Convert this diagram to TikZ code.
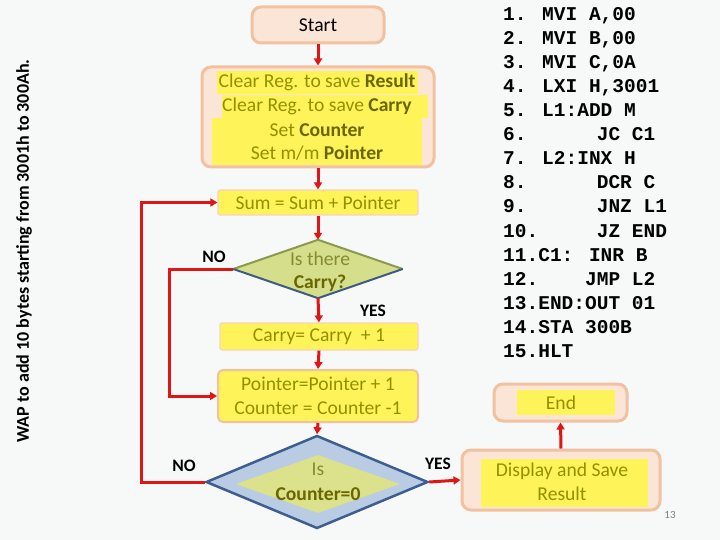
\documentclass[tikz,border=0pt]{standalone}
\usepackage{fontspec}
\setmainfont{Carlito}
\newfontfamily\codefont{Liberation Mono}
\usetikzlibrary{arrows.meta,shapes.geometric}
\definecolor{bgc}{HTML}{F7F8F8}
\definecolor{peach}{HTML}{FAE5D7}
\definecolor{peachb}{HTML}{F2C19F}
\definecolor{yel}{HTML}{FFF35A}
\definecolor{olivet}{HTML}{939000}
\definecolor{oliveb}{HTML}{6A6600}
\definecolor{olived}{HTML}{868A30}
\definecolor{redc}{HTML}{E01515}
\definecolor{dgreen}{HTML}{D5DE8B}
\definecolor{dtop}{HTML}{8B9A4E}
\definecolor{dbot}{HTML}{3E5B80}
\definecolor{lblue}{HTML}{B9CCE4}
\definecolor{dblue}{HTML}{3D5E8E}
\definecolor{inyel}{HTML}{DCE28C}
\tikzset{
  flowarr/.style={draw=redc, line width=3pt, -{Triangle[length=7pt,width=8pt]}},
  peachbox/.style={rectangle, rounded corners=9pt, fill=peach, draw=peachb, line width=3pt, inner sep=0pt},
  yelbox/.style={rectangle, rounded corners=2pt, fill=yel, draw=peachb!70, line width=1.2pt, inner sep=0pt, text=olivet, font=\fontsize{19.6}{22}\selectfont},
  txt/.style={inner sep=0pt, text=olivet, font=\fontsize{19.6}{22}\selectfont},
  lbl/.style={inner sep=0pt, font=\fontsize{17.5}{20}\selectfont\bfseries},
  code/.style={anchor=base west, inner sep=0pt, font=\codefont\bfseries\fontsize{19.5}{24}\selectfont},
}
\begin{document}
\begin{tikzpicture}[x=1pt,y=-1pt]
\useasboundingbox (0,0) rectangle (720,540);
\fill[bgc] (0,0) rectangle (720,540);

% title
\node[inner sep=0pt, rotate=90, font=\fontsize{18}{21}\selectfont\bfseries] (title) at (24,251) {WAP to add 10 bytes starting from 3001h to 300Ah.};

% start
\node[peachbox, minimum width=132pt, minimum height=36pt, font=\fontsize{19.6}{22}\selectfont] (start) at (318,25) {Start};

% init
\node[peachbox, minimum width=232pt, minimum height=100pt] (init) at (318,117) {};
\fill[yel] (217,71) rectangle (418,94);
\fill[yel] (222,95) rectangle (428,118);
\fill[yel] (212,118) rectangle (422,142);
\fill[yel] (212,142) rectangle (422,165);
\node[txt] (i1) at (317,82.5) {Clear Reg. to save \textcolor{oliveb}{\bfseries Result}};
\node[txt] (i2) at (317,106.5) {Clear Reg. to save \textcolor{oliveb}{\bfseries Carry}};
\node[txt] (i3) at (317,130) {Set \textcolor{oliveb}{\bfseries Counter}};
\node[txt] (i4) at (317,153.5) {Set m/m \textcolor{oliveb}{\bfseries Pointer}};

% sum
\node[yelbox, minimum width=200pt, minimum height=25pt] (sum) at (318,202.5) {Sum = Sum + Pointer};

% diamond 1
\node[diamond, fill=dgreen, draw=none, minimum width=169pt, minimum height=58pt, aspect=2.9, inner sep=0pt] (d1) at (318,269) {};
\draw[dtop, line width=2pt, line join=round] (d1.west) -- (d1.north) -- (d1.east);
\draw[dbot, line width=2pt, line join=round] (d1.west) -- (d1.south) -- (d1.east);
\node[txt, text=olived] (d1t) at (320,259) {Is there};
\node[txt, text=oliveb] (d1b) at (320,283) {\bfseries Carry?};

% carry
\node[yelbox, minimum width=198pt, minimum height=27pt] (carry) at (319,336.5) {Carry= Carry \ + 1};

% pointer
\node[rectangle, rounded corners=5pt, fill=yel, draw=peachb, line width=2pt, minimum width=200pt, minimum height=52pt, inner sep=0pt] (ptr) at (318,396) {};
\node[txt] (p1) at (318,384) {Pointer=Pointer + 1};
\node[txt] (p2) at (318,408) {Counter = Counter -1};

% diamond 2
\node[diamond, fill=lblue, draw=dblue, line width=2.5pt, minimum width=222pt, minimum height=93pt, aspect=2.39, inner sep=0pt] (d2) at (317,482) {};
\node[diamond, fill=inyel, draw=none, minimum width=164pt, minimum height=58pt, aspect=2.83, inner sep=0pt] (d2in) at (318,484) {};
\node[txt, text=olived] (d2t) at (318,469) {Is};
\node[txt, text=oliveb] (d2b) at (318,494) {\bfseries Counter=0};

% display & end
\node[peachbox, minimum width=198pt, minimum height=60pt] (disp) at (561,480) {};
\fill[yel] (481,459) rectangle (648,507);
\node[txt, align=center, font=\fontsize{19.6}{24}\selectfont] (dispt) at (562,482) {Display and Save\\Result};
\node[peachbox, minimum width=133pt, minimum height=37pt] (endb) at (560.5,402.5) {};
\fill[yel] (517,390) rectangle (615,415);
\node[txt] (endt) at (561,403) {End};

% labels
\node[lbl] (no1) at (214,257) {NO};
\node[lbl] (yes1) at (373,311) {YES};
\node[lbl] (no2) at (184,466) {NO};
\node[lbl] (yes2) at (438,464) {YES};
\node[inner sep=0pt, text=gray, font=\fontsize{11}{13}\selectfont] (pg) at (670,515) {13};

% connectors
\draw[flowarr] (start.south) -- (init.north);
\draw[flowarr] (init.south) -- (sum.north);
\draw[flowarr] (sum.south) -- (d1.north);
\draw[flowarr] (d1.south) -- (carry.north);
\draw[flowarr] (carry.south) -- (ptr.north);
\draw[flowarr] (ptr.south) -- (d2.north);
\draw[flowarr] (d1.west) -- ++(-64,0) |- (ptr.west);
\draw[flowarr] (d2.west) -- ++(-63,0) |- (sum.west);
\draw[flowarr] (d2.east) -- (disp.west);
\draw[flowarr] (disp.north) -- (endb.south);

% code
\node[code] (c1) at (503,21) {1. MVI A,00};
\node[code] (c2) at (503,45) {2. MVI B,00};
\node[code] (c3) at (503,69) {3. MVI C,0A};
\node[code] (c4) at (503,93) {4. LXI H,3001};
\node[code] (c5) at (503,117) {5. L1:ADD M};
\node[code] (c6) at (503,141) {6.\ \ \ \ \ \ JC C1};
\node[code] (c7) at (503,165) {7. L2:INX H};
\node[code] (c8) at (503,189) {8.\ \ \ \ \ \ DCR C};
\node[code] (c9) at (503,213) {9.\ \ \ \ \ \ JNZ L1};
\node[code] (c10) at (503,237) {10.\ \ \ \ \ JZ END};
\node[code] (c11) at (503,261) {11.C1: INR B};
\node[code] (c12) at (503,285) {12.\ \ \ \ JMP L2};
\node[code] (c13) at (503,309) {13.END:OUT 01};
\node[code] (c14) at (503,333) {14.STA 300B};
\node[code] (c15) at (503,357) {15.HLT};
\end{tikzpicture}
\end{document}
